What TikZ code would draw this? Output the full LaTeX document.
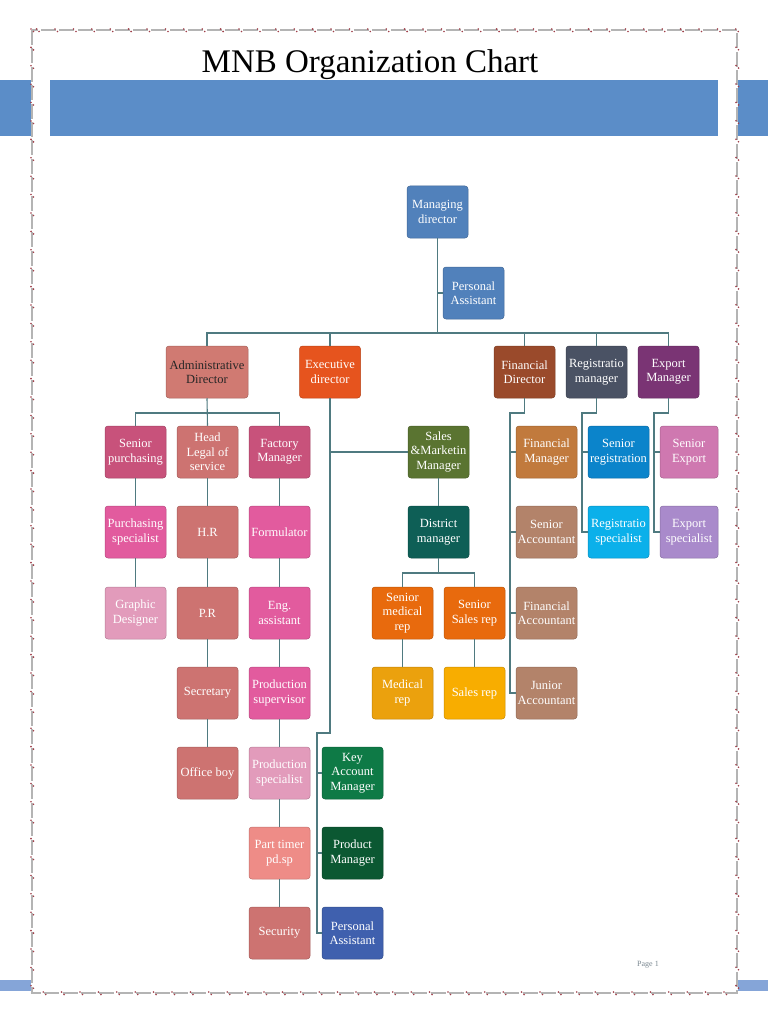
\documentclass[tikz,border=0pt]{standalone}
\usepackage{fontspec}
\setmainfont{Liberation Serif}
\usepackage{tikz}
\usetikzlibrary{positioning}

\definecolor{bandblue}{HTML}{5B8DC8}
\definecolor{footblue}{HTML}{85A5D8}
\definecolor{linkc}{HTML}{4F7A80}
\definecolor{dotc}{HTML}{A0404A}
\definecolor{framegray}{HTML}{B4B4B4}
\definecolor{mdblue}{HTML}{5181BB}
\definecolor{admrose}{HTML}{D07A72}
\definecolor{exeorange}{HTML}{E6541E}
\definecolor{finbrown}{HTML}{9A4A2B}
\definecolor{regslate}{HTML}{4A5264}
\definecolor{exppurple}{HTML}{7A3474}
\definecolor{rasp}{HTML}{C8527B}
\definecolor{rose}{HTML}{CD7371}
\definecolor{pink}{HTML}{E25B9E}
\definecolor{lpink}{HTML}{E29BBB}
\definecolor{salmon}{HTML}{EE8C87}
\definecolor{kgreen}{HTML}{0E7A46}
\definecolor{dgreen}{HTML}{0B5832}
\definecolor{pblue}{HTML}{3F60AE}
\definecolor{olive}{HTML}{5A7431}
\definecolor{teal}{HTML}{0E5F56}
\definecolor{orange}{HTML}{E86A0D}
\definecolor{amber}{HTML}{EBA10D}
\definecolor{gold}{HTML}{F8AD00}
\definecolor{copper}{HTML}{C17A3D}
\definecolor{tan}{HTML}{B3836A}
\definecolor{sblue}{HTML}{0B84CB}
\definecolor{cyan}{HTML}{0BB0EA}
\definecolor{orchid}{HTML}{CF78B0}
\definecolor{lilac}{HTML}{A98ACB}
\definecolor{pagegray}{HTML}{7A8790}

\begin{document}
\begin{tikzpicture}[x=1pt, y=-1pt,
    box/.style={rounded corners=3pt, minimum width=61, minimum height=52, inner sep=1pt,
      align=center, text=white, font=\fontsize{12.5}{14.5}\selectfont,
      fill=#1, draw=#1!80!black, line width=0.5pt},
    link/.style={draw=linkc, line width=1.1pt},
    dots/.style={dotc, line width=1.8pt, line cap=round, dash pattern=on 0pt off 18.4pt}]
\useasboundingbox (0,0) rectangle (768,1024);

% page frame and bands
\fill[bandblue] (0,80) rectangle (31,136);
\fill[bandblue] (50,80) rectangle (718,136);
\fill[bandblue] (738,80) rectangle (768,136);
\fill[footblue] (0,980) rectangle (31,991);
\fill[footblue] (738,980) rectangle (768,991);
\draw[framegray, line width=2.6pt, dash pattern=on 15pt off 3.4pt] (32,30) rectangle (737,993);
\draw[dots] (31,29) rectangle (736,992);
\draw[dots] (33.5,31.5) rectangle (738.5,994.5);

\node (title) at (370,65) {\fontsize{33}{36}\selectfont MNB Organization Chart};
\node[text=pagegray, font=\fontsize{8}{9}\selectfont] (page) at (648,965) {Page 1};

% top
\node[box=mdblue] (md) at (437.5,212) {Managing\\director};
\node[box=mdblue] (pa) at (473.5,293) {Personal\\Assistant};

% directors
\node[box=admrose, minimum width=82, text=black!85] (adm) at (207,372) {Administrative\\Director};
\node[box=exeorange] (exe) at (330,372) {Executive\\director};
\node[box=finbrown] (fin) at (524.5,372) {Financial\\Director};
\node[box=regslate] (reg) at (596.5,372) {Registratio\\manager};
\node[box=exppurple] (exp) at (668.5,372) {Export\\Manager};

% administration
\node[box=rasp] (spur) at (135.5,452) {Senior\\purchasing};
\node[box=rose] (head) at (207.5,452) {Head\\Legal of\\service};
\node[box=rasp] (fac) at (279.5,452) {Factory\\Manager};
\node[box=pink] (pspec) at (135.5,532) {Purchasing\\specialist};
\node[box=rose] (hr) at (207.5,532) {H.R};
\node[box=pink] (form) at (279.5,532) {Formulator};
\node[box=lpink] (graph) at (135.5,613) {Graphic\\Designer};
\node[box=rose] (pr) at (207.5,613) {P.R};
\node[box=pink] (eng) at (279.5,613) {Eng.\\assistant};
\node[box=rose] (sec) at (207.5,693) {Secretary};
\node[box=pink] (psup) at (279.5,693) {Production\\supervisor};
\node[box=rose] (oboy) at (207.5,773) {Office boy};
\node[box=lpink] (pspc) at (279.5,773) {Production\\specialist};
\node[box=salmon] (ptime) at (279.5,853) {Part timer\\pd.sp};
\node[box=rose] (secu) at (279.5,933) {Security};

% executive
\node[box=kgreen] (kam) at (352.5,773) {Key\\Account\\Manager};
\node[box=dgreen] (pm) at (352.5,853) {Product\\Manager};
\node[box=pblue] (pa2) at (352.5,933) {Personal\\Assistant};
\node[box=olive] (sm) at (438.5,452) {Sales\\\&Marketin\\Manager};
\node[box=teal] (dist) at (438.5,532) {District\\manager};
\node[box=orange] (smr) at (402.5,613) {Senior\\medical\\rep};
\node[box=orange] (ssr) at (474.5,613) {Senior\\Sales rep};
\node[box=amber] (mr) at (402.5,693) {Medical\\rep};
\node[box=gold] (sr) at (474.5,693) {Sales rep};

% finance, registration, export
\node[box=copper] (fman) at (546.5,452) {Financial\\Manager};
\node[box=tan] (sacc) at (546.5,532) {Senior\\Accountant};
\node[box=tan] (facc) at (546.5,613) {Financial\\Accountant};
\node[box=tan] (jacc) at (546.5,693) {Junior\\Accountant};
\node[box=sblue] (sreg) at (618.5,452) {Senior\\registration};
\node[box=cyan] (rspec) at (618.5,532) {Registratio\\specialist};
\node[box=orchid, minimum width=58] (sexp) at (689,452) {Senior\\Export};
\node[box=lilac, minimum width=58] (espec) at (689,532) {Export\\specialist};

% connectors
\coordinate (top) at (437.5,333);
\coordinate (admbus) at (207.5,413);
\coordinate (kbus) at (317,733);
\coordinate (dbus) at (438.5,573);
\coordinate (fbus) at (510,413);
\coordinate (rbus) at (582,413);
\coordinate (ebus) at (654,413);

\draw[link] (md.south) -- (top);
\draw[link] (pa.west) -- (pa.west -| md.south);
\draw[link] (adm.north) |- (top) -| (exp.north);
\draw[link] (exe.north) -- (exe.north |- top);
\draw[link] (fin.north) -- (fin.north |- top);
\draw[link] (reg.north) -- (reg.north |- top);

\draw[link] (adm.south) -- (head.north);
\draw[link] (spur.north) |- (admbus) -| (fac.north);
\draw[link] (spur) -- (pspec) -- (graph);
\draw[link] (head) -- (hr) -- (pr) -- (sec) -- (oboy);
\draw[link] (fac) -- (form) -- (eng) -- (psup) -- (pspc) -- (ptime) -- (secu);

\draw[link] (exe.south) |- (exe.south |- kbus) -- (kbus) |- (pa2.west);
\draw[link] (exe.south |- sm.west) -- (sm.west);
\draw[link] (kam.west) -- (kam.west -| kbus);
\draw[link] (pm.west) -- (pm.west -| kbus);
\draw[link] (sm) -- (dist) -- (dbus);
\draw[link] (smr.north) |- (dbus) -| (ssr.north);
\draw[link] (smr) -- (mr);
\draw[link] (ssr) -- (sr);

\draw[link] (fin.south) |- (fbus) |- (jacc.west);
\draw[link] (fman.west) -- (fman.west -| fbus);
\draw[link] (sacc.west) -- (sacc.west -| fbus);
\draw[link] (facc.west) -- (facc.west -| fbus);
\draw[link] (reg.south) |- (rbus) |- (rspec.west);
\draw[link] (sreg.west) -- (sreg.west -| rbus);
\draw[link] (exp.south) |- (ebus) |- (espec.west);
\draw[link] (sexp.west) -- (sexp.west -| ebus);
\end{tikzpicture}
\end{document}
